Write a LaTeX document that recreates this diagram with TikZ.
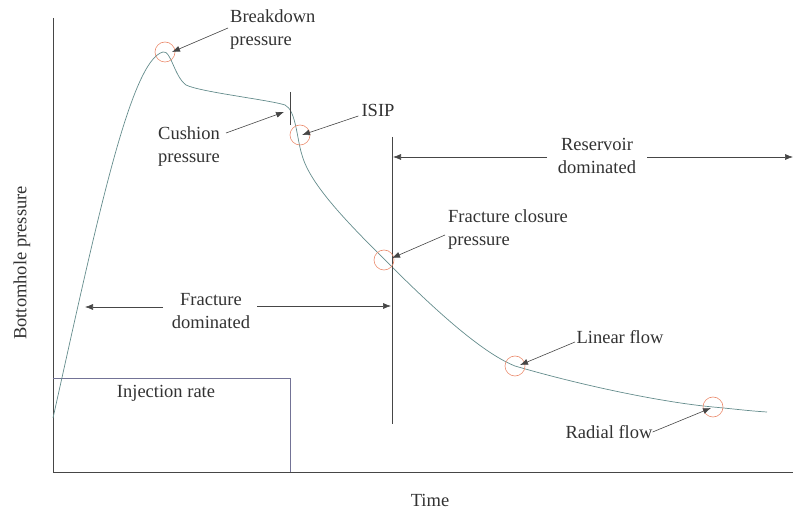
\documentclass[tikz,border=0pt]{standalone}
\usepackage{fontspec}
\setmainfont{Liberation Serif}
\usetikzlibrary{arrows.meta}
\definecolor{curvec}{RGB}{100,140,140}
\definecolor{rectc}{RGB}{115,115,150}
\definecolor{circc}{RGB}{235,140,110}
\definecolor{axisc}{RGB}{70,70,70}
\definecolor{textc}{RGB}{50,50,50}
\begin{document}
\begin{tikzpicture}[x=1pt,y=-1pt,
  lbl/.style={font=\fontsize{18.5}{23}\selectfont, text=textc, inner sep=0pt},
  mark circ/.style={circle, draw=circc, line width=0.6pt, minimum size=20pt, inner sep=0pt},
  callout/.style={draw=axisc, line width=0.6pt, -{Latex[length=8pt,width=6pt]}},
  span/.style={draw=axisc, line width=0.6pt, -{Latex[length=8pt,width=6pt]}},
  ]
\useasboundingbox (0,0) rectangle (793,510);
% axes
\draw[axisc, line width=0.8pt] (53,18) -- (53,472) -- (793,472);
% injection rate box
\draw[rectc, line width=0.7pt] (53,378) -- (290,378) -- (290,472);
\node[lbl] (inj) at (166,393) {Injection rate};
% curve
\draw[curvec, line width=0.7pt] (53,418) .. controls (95,230) and (130,60) .. (163,52)
  .. controls (171,50) and (174,76) .. (186,85)
  .. controls (200,92) and (270,100) .. (285,105)
  .. controls (296,110) and (297,140) .. (302,155)
  .. controls (310,185) and (350,225) .. (387,262)
  .. controls (430,305) and (480,352) .. (515,366)
  .. controls (580,385) and (660,402) .. (713,407)
  .. controls (735,409) and (750,411) .. (767,412);
% vertical lines
\draw[axisc, line width=0.7pt] (290,92) -- (290,125);
\draw[axisc, line width=0.8pt] (392,137) -- (392,424);
% circles
\node[mark circ] (bd) at (165,52) {};
\node[mark circ] (isip) at (300,135) {};
\node[mark circ] (fc) at (384,260) {};
\node[mark circ] (lf) at (515,366) {};
\node[mark circ] (rf) at (713,407) {};
% labels
\node[lbl, align=left, anchor=west] (bdt) at (230,30) {Breakdown\\pressure};
\node[lbl, align=left, anchor=west] (cpt) at (158,147) {Cushion\\pressure};
\node[lbl] (isipt) at (378,110) {ISIP};
\node[lbl, align=center] (rdt) at (597,156) {Reservoir\\dominated};
\node[lbl, align=left, anchor=west] (fct) at (448,230) {Fracture closure\\pressure};
\node[lbl, align=center] (fdt) at (211,311) {Fracture\\dominated};
\node[lbl] (lft) at (620,337) {Linear flow};
\node[lbl] (rft) at (609,432) {Radial flow};
\node[lbl] (time) at (430,500) {Time};
\node[lbl, rotate=90] (ylab) at (22,263) {Bottomhole pressure};
% callout arrows
\coordinate (bdtip) at (172,52);
\coordinate (cptip) at (284,112);
\coordinate (isiptip) at (302,135);
\coordinate (fctip) at (392,258);
\coordinate (lftip) at (520,365);
\coordinate (rftip) at (711,408);
\draw[callout] (228,28) -- (bdtip);
\draw[callout] (226,133) -- (cptip);
\draw[callout] (isipt.west) ++(-3,6) -- (isiptip);
\draw[callout] (445,235) -- (fctip);
\draw[callout] (575,342) -- (lftip);
\draw[callout] (rft.east) -- (rftip);
% span arrows
\coordinate (fdl) at (85,307);
\coordinate (fdr) at (391,306);
\coordinate (rdl) at (393,157);
\coordinate (rdr) at (793,157);
\draw[span] (163,307) -- (fdl);
\draw[span] (257,306) -- (fdr);
\draw[span] (547,157) -- (rdl);
\draw[span] (647,157) -- (rdr);
\end{tikzpicture}
\end{document}
